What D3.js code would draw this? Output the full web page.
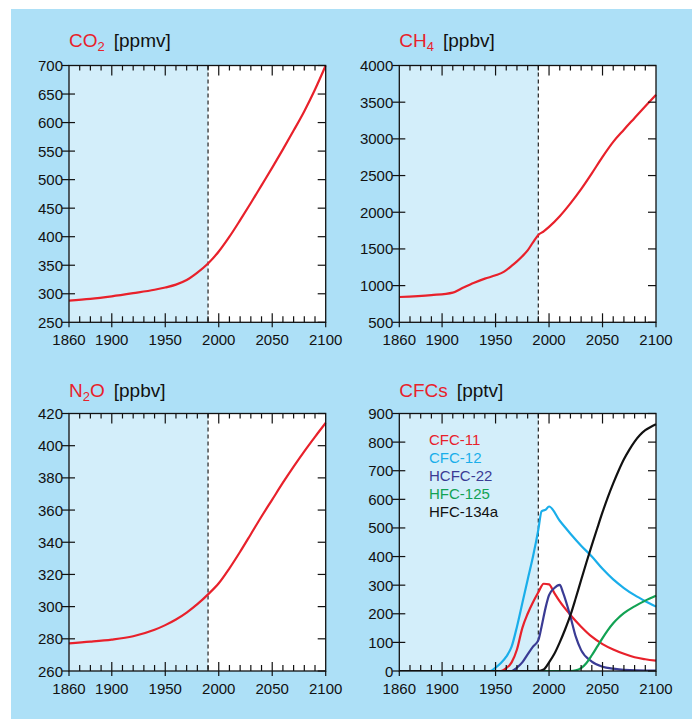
<!DOCTYPE html>
<html><head><meta charset="utf-8">
<script src="https://cdn.jsdelivr.net/npm/d3@7"></script>
<style>
body{margin:0;background:#fff}
svg{display:block}
text{font-family:"Liberation Sans",Arial,Helvetica,sans-serif}
</style>
</head><body>
<svg id="chart" width="692" height="719"></svg>
<script>
// ---------- DATA ----------
const xTickLabels = [1860, 1900, 1950, 2000, 2050, 2100];

const co2Years  = [1860,1880,1900,1920,1940,1950,1960,1970,1980,1990,2000,2010,2020,2030,2040,2050,2060,2070,2080,2090,2100];
const co2Values = [288, 291, 295.5, 301, 307, 311, 316, 324, 337, 353, 374, 400, 429, 459, 490, 521, 553, 586, 620, 658, 700];
const co2Ticks  = [250,300,350,400,450,500,550,600,650,700];

const ch4Years  = [1860,1890,1910,1920,1930,1940,1950,1958,1965,1970,1975,1980,1985,1990,1995,2000,2010,2020,2030,2040,2050,2060,2070,2080,2090,2100];
const ch4Values = [845, 870, 905, 975, 1040, 1095, 1140, 1190, 1270, 1330, 1400, 1480, 1590, 1690, 1740, 1800, 1945, 2120, 2315, 2530, 2755, 2960, 3125, 3285, 3445, 3600];
const ch4Ticks  = [500,1000,1500,2000,2500,3000,3500,4000];

const n2oYears  = [1860,1880,1900,1920,1940,1950,1960,1970,1980,1990,2000,2010,2020,2030,2040,2050,2060,2070,2080,2090,2100];
const n2oValues = [277.2, 278.2, 279.5, 281.6, 285.6, 288.5, 292, 296.3, 301.5, 307.6, 314.5, 323.8, 334.1, 345, 356, 366.5, 377, 387, 396.5, 405.5, 414.2];
const n2oTicks  = [260,280,300,320,340,360,380,400,420];

const cfcTicks  = [0,100,200,300,400,500,600,700,800,900];
const cfcNames  = ["CFC-11","CFC-12","HCFC-22","HFC-125","HFC-134a"];
const cfcColors = ["#e8212b","#1aaeea","#3a3b94","#12a253","#111111"];

const cfc11Years  = [1860,1955,1960,1965,1970,1975,1980,1985,1990,1995,2000,2005,2010,2020,2030,2040,2050,2060,2070,2080,2090,2100];
const cfc11Values = [0,    0,   10,  30,  75,  150, 200, 240, 275, 305, 303, 272, 243, 196, 155, 120, 94,  75,  60,  48,  41,  36];
const cfc12Years  = [1860,1945,1950,1955,1960,1965,1970,1975,1980,1985,1990,1993,1997,2000,2010,2020,2030,2040,2050,2060,2070,2080,2090,2100];
const cfc12Values = [0,    0,   12,  28,  50,  85,  155, 237, 319, 400, 494, 558, 564, 575, 525, 480, 438, 400, 357, 320, 290, 265, 244, 225];
const hcfc22Years  = [1860,1965,1970,1975,1980,1985,1990,1993,1997,2000,2005,2010,2013,2020,2025,2030,2040,2050,2060,2070,2100];
const hcfc22Values = [0,   0,   12,  30,  58,  85,  108, 155, 225, 265, 290, 301, 275, 190, 120, 73,  33,  15,  8,   4,   1];
const hfc125Years  = [1860,2020,2025,2030,2035,2040,2045,2050,2055,2060,2065,2070,2080,2090,2100];
const hfc125Values = [0,   0,   2,   10,  28,  55,  85,  115, 143, 167, 186, 202, 226, 246, 263];
const hfc134aYears  = [1860,1990,1995,2000,2005,2010,2015,2020,2025,2030,2035,2040,2045,2050,2055,2060,2065,2070,2075,2080,2085,2090,2095,2100];
const hfc134aValues = [0,   0,   5,   30,  60,  100, 145, 195, 255, 318, 380, 440, 498, 555, 608, 656, 700, 740, 773, 802, 825, 842, 853, 862];

// ---------- LAYOUT ----------
const svg = d3.select("#chart");
const BG = "#ade0f7", SHADE = "#d3eefa", RED = "#e8212b";
svg.append("rect").attr("x",11).attr("y",9).attr("width",681).attr("height",710).attr("fill",BG);

const boxes = [
  {l:69,   r:325.7, t:65.5,  b:322.3, titleY:47},
  {l:399.3,r:656,   t:65.5,  b:322.3, titleY:47},
  {l:69,   r:325.7, t:413.5, b:671,   titleY:396.5},
  {l:399.3,r:656,   t:413.5, b:671,   titleY:396.5}
];

function panel(box, yDomain, yTicks, title, sub, rest, unit, series) {
  const x = d3.scaleLinear().domain([1860,2100]).range([box.l, box.r]);
  const y = d3.scaleLinear().domain(yDomain).range([box.b, box.t]);
  const g = svg.append("g");
  g.append("rect").attr("x",box.l).attr("y",box.t).attr("width",box.r-box.l).attr("height",box.b-box.t).attr("fill","#fff");
  g.append("rect").attr("x",x(1860)).attr("y",box.t).attr("width",x(1990)-x(1860)).attr("height",box.b-box.t).attr("fill",SHADE);
  g.append("line").attr("x1",x(1990)).attr("x2",x(1990)).attr("y1",box.t).attr("y2",box.b)
    .attr("stroke","#333").attr("stroke-width",1.3).attr("stroke-dasharray","4,3");
  const line = d3.line().x(d=>x(d[0])).y(d=>y(d[1])).curve(d3.curveMonotoneX);
  const clipId = "clip"+Math.round(box.l)+"_"+Math.round(box.t);
  svg.append("clipPath").attr("id",clipId).append("rect")
    .attr("x",box.l).attr("y",box.t-2).attr("width",box.r-box.l+1).attr("height",box.b-box.t+2);
  series.forEach(s=>{
    g.append("path").datum(d3.zip(s.years,s.values)).attr("d",line)
      .attr("fill","none").attr("stroke",s.color).attr("stroke-width",2.2)
      .attr("stroke-linejoin","round").attr("clip-path","url(#"+clipId+")");
  });
  const tk = g.append("g").attr("stroke","#111").attr("stroke-width",1.2);
  d3.range(1870,2100,10).forEach(v=>{
    const major = v%50===0;
    tk.append("line").attr("x1",x(v)).attr("x2",x(v)).attr("y1",box.b+(major?5:0)).attr("y2",box.b-(major?9:6));
    tk.append("line").attr("x1",x(v)).attr("x2",x(v)).attr("y1",box.t).attr("y2",box.t+(major?10:5));
  });
  [1860,2100].forEach(v=>{
    tk.append("line").attr("x1",x(v)).attr("x2",x(v)).attr("y1",box.b).attr("y2",box.b+5);
  });
  yTicks.forEach(v=>{
    tk.append("line").attr("x1",box.l-7).attr("x2",box.l+(v===yDomain[0]||v===yDomain[1]?0:6)).attr("y1",y(v)).attr("y2",y(v));
    tk.append("line").attr("x1",box.r-8).attr("x2",box.r).attr("y1",y(v)).attr("y2",y(v));
  });
  g.append("rect").attr("x",box.l).attr("y",box.t).attr("width",box.r-box.l).attr("height",box.b-box.t)
    .attr("fill","none").attr("stroke","#111").attr("stroke-width",1.3);
  const lab = g.append("g").attr("font-size",15).attr("fill","#111");
  xTickLabels.forEach(v=>{
    lab.append("text").attr("x",x(v)).attr("y",box.b+23).attr("text-anchor","middle").text(v);
  });
  yTicks.forEach(v=>{
    lab.append("text").attr("x",box.l-6).attr("y",y(v)+5.5).attr("text-anchor","end").text(v);
  });
  const t = g.append("text").attr("x",box.l).attr("y",box.titleY).attr("font-size",19);
  t.append("tspan").attr("fill",RED).text(title);
  if (sub) t.append("tspan").attr("fill",RED).attr("font-size",13).attr("dy",4).text(sub);
  if (rest) t.append("tspan").attr("fill",RED).attr("dy",sub?-4:0).text(rest);
  t.append("tspan").attr("fill","#111").attr("dy",(sub&&!rest)?-4:0).attr("dx",9).text(unit);
  return {x,y,g};
}

panel(boxes[0],[250,700],co2Ticks,"CO","2","", "[ppmv]",
  [{years:co2Years,values:co2Values,color:RED}]);
panel(boxes[1],[500,4000],ch4Ticks,"CH","4","", "[ppbv]",
  [{years:ch4Years,values:ch4Values,color:RED}]);
panel(boxes[2],[260,420],n2oTicks,"N","2","O", "[ppbv]",
  [{years:n2oYears,values:n2oValues,color:RED}]);
const cfcYears = [cfc11Years,cfc12Years,hcfc22Years,hfc125Years,hfc134aYears];
const cfcVals  = [cfc11Values,cfc12Values,hcfc22Values,hfc125Values,hfc134aValues];
const p4 = panel(boxes[3],[0,900],cfcTicks,"CFCs","","", "[pptv]",
  cfcNames.map((n,i)=>({years:cfcYears[i],values:cfcVals[i],color:cfcColors[i]})));
cfcNames.forEach((n,i)=>{
  p4.g.append("text").attr("x",429).attr("y",445+i*18).attr("font-size",15)
    .attr("fill",cfcColors[i]).text(n);
});
</script>
</body></html>
